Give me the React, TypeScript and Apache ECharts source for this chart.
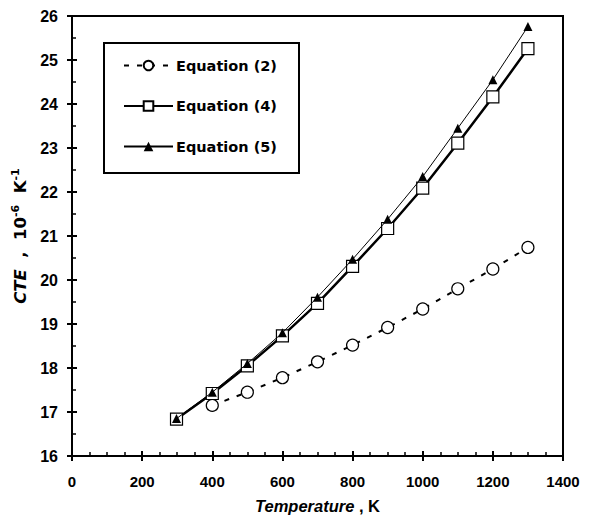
import React, { useEffect, useRef } from "react";
import * as echarts from "echarts";

const eq2X = [400, 500, 600, 700, 800, 900, 1000, 1100, 1200, 1300];
const eq2Y = [17.15, 17.45, 17.78, 18.14, 18.52, 18.92, 19.34, 19.8, 20.25, 20.74];
const eq45X = [298, 400, 500, 600, 700, 800, 900, 1000, 1100, 1200, 1300];
const eq4Y = [16.84, 17.42, 18.05, 18.73, 19.47, 20.31, 21.17, 22.09, 23.11, 24.16, 25.26];
const eq5Y = [16.85, 17.45, 18.1, 18.8, 19.61, 20.47, 21.38, 22.35, 23.45, 24.55, 25.76];
const seriesNames = ["Equation (2)", "Equation (4)", "Equation (5)"];

const FONT = "'Liberation Sans', Arial, sans-serif";
const WIDE = "'DejaVu Sans', sans-serif";

export default function App() {
  const ref = useRef<HTMLDivElement>(null);
  useEffect(() => {
    if (!ref.current) return;
    const chart = echarts.init(ref.current, undefined, { renderer: "svg" });
    const axisBase = {
      type: "value" as const,
      axisLine: { show: true, lineStyle: { color: "#000", width: 2 } },
      splitLine: { show: false },
    };
    chart.setOption({
      animation: false,
      backgroundColor: "#fff",
      textStyle: { fontFamily: FONT },
      grid: {
        left: 72,
        right: 49,
        top: 16,
        bottom: 61,
        show: true,
        borderColor: "#000",
        borderWidth: 2,
        backgroundColor: "transparent",
      },
      legend: {
        data: seriesNames,
        orient: "vertical",
        left: 123,
        top: 58,
        itemWidth: 49,
        itemHeight: 12,
        itemGap: 25.5,
        padding: 0,
        textStyle: { fontFamily: WIDE, fontWeight: "bold", fontSize: 14.5, color: "#000", padding: [0, 0, 0, -2] },
      },
      graphic: [
        {
          type: "rect",
          shape: { x: 104, y: 43, width: 195, height: 130 },
          style: { fill: "transparent", stroke: "#000", lineWidth: 2 },
          z: 10,
        },
      ],
      xAxis: [
        {
          ...axisBase,
          min: 0,
          max: 1400,
          interval: 200,
          position: "bottom",
          axisTick: { show: true, inside: true, length: 5, lineStyle: { color: "#000", width: 2 } },
          minorTick: { show: true, splitNumber: 4, length: 4, lineStyle: { color: "#000", width: 1.5 } },
          axisLabel: {
            color: "#000",
            fontWeight: "bold",
            fontSize: 15,
            margin: 18,
            fontFamily: FONT,
            formatter: (v: number) => String(v),
          },
          name: "{i|Temperature}{n| , K}",
          nameLocation: "middle",
          nameGap: 41,
          nameTextStyle: {
            color: "#000",
            fontFamily: FONT,
            rich: {
              i: { fontStyle: "italic", fontWeight: "bold", fontSize: 16.5, color: "#000", fontFamily: FONT },
              n: { fontWeight: "bold", fontSize: 16.5, color: "#000", fontFamily: FONT },
            },
          },
        },
        {
          ...axisBase,
          min: 0,
          max: 1400,
          interval: 200,
          position: "bottom",
          axisLine: { show: false },
          axisTick: { show: true, inside: false, length: 5, lineStyle: { color: "#000", width: 2 } },
          axisLabel: { show: false },
        },
      ],
      yAxis: [
        {
          ...axisBase,
          min: 16,
          max: 26,
          interval: 1,
          position: "left",
          axisTick: { show: true, inside: true, length: 5, lineStyle: { color: "#000", width: 2 } },
          minorTick: { show: true, splitNumber: 2, length: 4, lineStyle: { color: "#000", width: 1.5 } },
          axisLabel: { color: "#000", fontWeight: "bold", fontSize: 16, margin: 14, fontFamily: FONT },
          name: "{i|CTE}{n|  ,  10}{s|-6}{n|  K}{s|-1}",
          nameLocation: "middle",
          nameGap: 42,
          nameRotate: 90,
          nameTextStyle: {
            color: "#000",
            fontFamily: WIDE,
            rich: {
              i: { fontStyle: "italic", fontWeight: "bold", fontSize: 16.5, color: "#000", fontFamily: WIDE, lineHeight: 20 },
              n: { fontWeight: "bold", fontSize: 16.5, color: "#000", fontFamily: WIDE, lineHeight: 20 },
              s: { fontWeight: "bold", fontSize: 11, color: "#000", fontFamily: WIDE, verticalAlign: "top", lineHeight: 20 },
            },
          },
        },
        {
          ...axisBase,
          min: 16,
          max: 26,
          interval: 1,
          position: "left",
          axisLine: { show: false },
          axisTick: { show: true, inside: false, length: 5, lineStyle: { color: "#000", width: 2 } },
          axisLabel: { show: false },
        },
      ],
      series: [
        {
          name: seriesNames[0],
          type: "line",
          data: eq2X.map((x, i) => [x, eq2Y[i]]),
          symbol: "circle",
          symbolSize: 12,
          lineStyle: { color: "#000", width: 2, type: [5, 8] },
          itemStyle: { color: "#fff", borderColor: "#000", borderWidth: 1.2 },
          z: 2,
        },
        {
          name: seriesNames[1],
          type: "line",
          data: eq45X.map((x, i) => [x, eq4Y[i]]),
          symbol: "rect",
          symbolSize: 12,
          lineStyle: { color: "#000", width: 2.5 },
          itemStyle: { color: "#fff", borderColor: "#000", borderWidth: 1.2 },
          z: 3,
        },
        {
          name: seriesNames[2],
          type: "line",
          data: eq45X.map((x, i) => [x, eq5Y[i]]),
          symbol: "triangle",
          symbolSize: 9,
          lineStyle: { color: "#000", width: 1 },
          itemStyle: { color: "#000", borderColor: "#000", borderWidth: 0 },
          z: 4,
        },
      ],
    });
    return () => chart.dispose();
  }, []);
  return <div ref={ref} style={{ position: "absolute", left: 0, top: 0, width: 612, height: 519 }} />;
}
